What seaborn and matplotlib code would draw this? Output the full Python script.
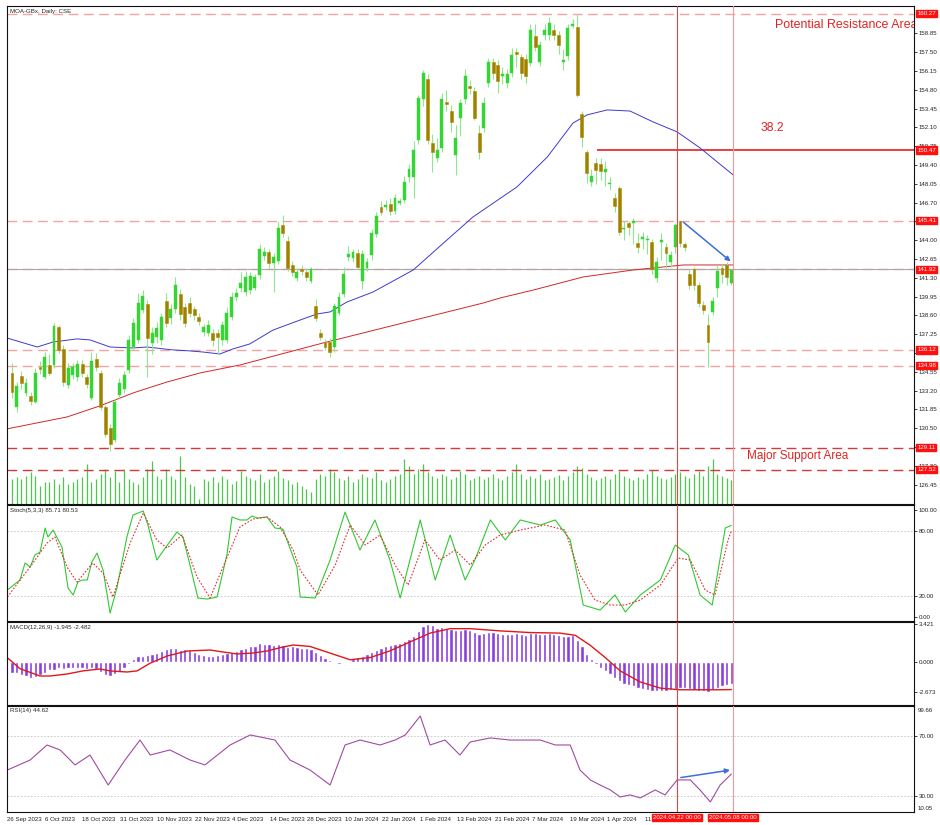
import matplotlib
matplotlib.use('Agg')
import matplotlib.pyplot as plt
import matplotlib.transforms as mtransforms
import numpy as np
import pandas as pd
import seaborn as sns

sns.set_style('white')
plt.rcParams['font.family'] = ['Liberation Sans', 'DejaVu Sans']

# ---------------- data ----------------
opens = [134.5,132.0,134.25,133.0,132.8,132.4,134.9,134.2,135.05,135.05,
         137.75,136.2,133.6,134.3,134.2,135.1,134.2,132.7,135.5,134.5,
         132.0,130.5,129.65,132.9,133.3,134.7,136.35,136.8,139.0,139.4,
         136.6,137.05,136.8,139.6,138.4,139.05,140.1,139.2,139.5,139.05,
         138.5,137.4,137.35,137.3,137.35,136.8,136.8,138.5,139.9,140.6,
         140.3,140.4,140.6,141.5,142.85,143.15,142.35,142.5,145.1,143.95,
         142.2,141.3,141.9,141.7,141.1,139.3,137.3,136.7,136.7,136.3,
         138.8,140.1,142.8,142.7,143.1,141.1,142.0,142.9,144.45,146.4,
         146.4,146.6,146.1,146.7,146.9,148.5,148.5,151.2,154.1,155.6,
         151.0,149.9,150.6,153.9,153.3,150.1,152.8,154.1,155.1,154.7,
         151.7,152.05,155.3,156.8,156.6,155.8,155.3,156.0,157.5,157.15,
         157.0,156.7,158.65,156.8,158.7,158.7,159.1,158.75,156.8,157.2,
         159.4,159.3,153.05,150.3,148.2,149.55,149.5,148.9,148.0,147.0,
         147.75,144.8,145.2,145.25,143.8,144.1,144.0,143.9,141.3,143.9,
         143.5,142.4,143.5,145.4,143.7,141.6,141.9,140.8,139.35,137.9,
         138.85,140.6,142.0,142.2,140.95]
closes = [133.1,133.5,133.75,133.75,132.45,134.5,134.75,135.6,134.5,137.85,
          136.1,133.8,134.8,134.9,135.1,134.5,133.7,135.3,134.9,132.0,
          130.1,129.4,132.4,133.75,134.3,136.8,138.05,139.5,140.0,137.0,
          137.3,137.7,138.5,138.05,139.05,140.8,138.7,138.05,138.8,138.6,
          138.2,137.8,137.9,136.8,137.05,137.9,138.8,139.9,140.2,140.9,
          141.35,141.4,141.35,143.4,143.15,142.35,142.8,144.9,144.5,142.0,
          141.7,141.7,141.8,141.35,141.9,138.4,137.05,136.3,136.0,139.3,
          139.9,141.6,143.0,143.15,142.1,143.0,142.45,144.5,145.7,146.0,
          146.55,146.1,147.0,146.8,148.2,149.1,150.5,154.2,156.0,151.2,
          150.3,150.5,154.1,153.75,152.5,151.3,153.85,155.8,154.9,152.8,
          150.3,153.85,156.8,156.0,155.4,155.95,155.95,157.3,157.4,156.0,
          155.8,159.1,157.9,158.0,159.1,159.6,158.75,158.0,156.95,159.2,
          159.55,154.4,151.4,148.8,148.6,149.05,149.0,149.1,148.1,146.45,
          144.6,144.9,144.95,145.35,143.5,144.2,144.1,141.9,142.4,144.0,
          143.1,142.9,145.1,143.8,143.5,140.8,140.8,139.5,139.0,136.7,
          139.6,141.8,141.6,141.35,141.85]
highs = [135.2,133.8,134.6,134.1,133.1,134.8,135.3,136.0,135.8,138.05,
         137.9,136.5,135.2,135.2,135.4,135.4,134.4,136.0,135.9,134.7,
         132.2,130.8,132.6,134.1,134.6,137.2,138.4,140.2,140.4,139.7,
         137.8,138.1,138.8,140.2,139.4,141.35,140.5,139.5,139.9,139.3,
         138.8,138.0,138.3,137.6,137.6,138.2,139.2,140.3,140.6,141.7,
         141.8,141.7,141.6,143.7,143.5,143.4,143.1,145.4,145.8,144.3,
         142.5,142.0,142.2,142.0,142.1,139.8,137.6,136.9,137.0,139.5,
         140.3,142.1,143.6,143.4,143.4,143.3,142.7,144.8,146.0,146.8,
         146.9,147.0,147.3,147.0,148.6,149.5,151.1,154.4,156.2,155.9,
         151.6,151.3,154.6,154.8,153.7,152.3,154.1,156.3,155.5,155.0,
         152.3,154.3,157.1,157.1,156.9,156.4,156.3,157.8,157.8,157.4,
         157.4,159.5,159.5,158.3,159.5,160.0,159.5,159.0,157.7,159.5,
         159.9,160.27,153.3,150.5,149.1,149.9,149.9,149.7,148.5,147.4,
         147.9,145.4,145.4,145.6,144.5,144.6,144.4,144.1,142.8,144.5,
         143.8,143.2,145.2,145.41,143.9,141.9,142.1,141.0,139.6,138.7,
         139.9,142.2,142.3,142.4,141.9]
lows = [132.7,131.7,133.3,132.8,132.2,132.3,134.4,134.0,134.3,134.8,
        135.9,133.5,133.4,134.0,133.9,134.2,133.4,132.5,134.6,131.8,
        129.9,128.9,129.5,132.7,133.0,134.5,136.1,136.6,138.8,134.2,
        135.8,136.6,136.5,137.8,138.0,138.8,138.3,137.8,138.5,138.3,
        137.9,137.1,137.1,136.4,135.8,136.5,136.6,138.3,139.6,140.3,
        140.0,140.1,140.4,141.2,142.6,142.0,140.3,142.3,144.2,141.8,
        141.4,141.1,141.5,141.1,140.9,138.2,136.8,136.1,135.6,136.0,
        138.6,139.9,142.5,142.4,141.9,140.5,141.8,142.6,144.2,145.8,
        146.2,145.8,145.9,146.5,146.7,148.2,147.0,150.9,153.6,150.9,
        148.9,149.6,150.3,153.3,151.8,148.7,151.5,153.8,154.5,152.6,
        149.8,151.8,155.0,155.6,154.6,155.2,154.9,155.7,156.4,155.6,
        155.3,156.5,157.6,156.5,158.4,158.4,158.4,157.4,156.2,156.9,
        159.2,154.3,150.7,148.1,147.9,148.0,148.3,147.9,147.6,146.0,
        144.4,144.0,144.4,143.7,143.1,143.4,143.0,141.6,141.0,142.6,
        142.0,142.1,143.1,143.5,143.2,140.5,140.4,139.2,138.7,134.9,
        138.6,139.9,140.9,140.8,140.8]
volume = [25,27,25,28,32,28,18,22,22,25,20,27,20,22,25,27,40,22,25,30,
          35,27,33,22,35,25,22,20,27,35,43,28,25,35,28,25,48,27,20,18,
          5,25,23,27,22,28,25,20,23,33,28,
          26,24,30,22,25,28,33,26,24,20,
          22,18,15,12,25,30,28,35,32,26,
          24,28,22,25,30,27,26,32,24,22,
          25,28,30,45,38,30,35,40,32,28,
          26,30,28,25,27,33,30,24,26,28,
          25,27,30,26,24,28,32,40,30,25,
          28,26,30,24,25,27,29,24,28,32,
          38,36,30,27,24,26,28,25,30,33,
          28,26,24,27,25,30,34,28,26,25,
          27,30,32,28,26,30,33,28,38,45,
          30,28,26,24]

ma_fast_idx = [-1.1,5.4,8.8,13.9,16.7,21.0,25.9,28.9,34.5,38.1,40.9,44.5,47.3,50.9,55.9,61.7,65.3,
               68.1,71.7,77.3,85.9,93.1,98.7,108.1,114.6,120.1,123.1,127.4,132.3,137.3,142.4,147.3,154.4]
ma_fast_val = [136.98,136.33,136.69,136.91,136.84,136.33,136.26,136.33,136.12,136.05,135.97,135.83,
               136.19,136.55,137.55,138.27,138.70,138.85,139.56,140.28,141.86,144.01,145.67,147.82,
               149.97,152.41,152.99,153.35,153.27,152.48,151.77,150.62,148.68]
ma_slow_idx = [-1.1,11.8,18.8,25.9,33.2,40.3,48.8,66.6,84.6,100.9,104.5,111.6,122.3,133.0,143.7,154.4]
ma_slow_val = [130.45,131.31,132.10,133.03,133.82,134.47,135.04,136.62,138.13,139.49,139.85,140.42,
               141.36,141.86,142.22,142.22]

stoch_k_idx = [-1,1.7,2.8,3.9,4.9,6.0,7.1,7.7,8.8,10.7,12.0,13.1,14.1,15.0,16.1,17.1,18.2,19.5,21.0,
               22.5,24.6,25.9,28.1,29.1,31.0,32.8,35.3,36.6,38.1,39.8,41.8,43.9,46.0,47.1,48.8,50.3,
               51.4,52.5,54.6,56.3,58.0,61.0,61.7,64.9,68.1,71.3,74.5,77.7,80.9,83.1,87.4,90.6,93.8,
               97.0,99.1,102.4,105.6,108.8,113.1,116.3,119.5,122.3,125.9,129.1,131.3,134.5,138.8,
               142.0,144.8,147.3,149.9,152.7,154]
stoch_k_val = [25.2,34.6,50.5,46.7,57.9,60.7,83.2,74.8,81.3,65.4,27.1,20.6,32.7,34.6,34.6,51.4,59.8,
               43.9,3.7,28.0,74.8,95.3,99.1,86.0,53.3,64.5,79.4,74.8,48.6,17.8,16.8,18.7,57.9,93.5,
               90.7,90.7,94.4,92.5,93.5,83.2,82.2,46.7,18.7,17.8,53.3,98.1,62.6,90.7,53.3,17.8,90.7,
               34.6,76.6,34.6,53.3,90.7,72.0,90.7,86.0,90.7,72.0,11.2,6.5,20.6,4.7,20.6,34.6,67.3,
               57.9,20.6,11.2,83.2,85.7]
stoch_d_idx = [-1,4.5,7.5,9.2,11.8,13.9,17.3,19.5,21.6,25.3,28.1,31.0,33.2,36.4,39.6,42.4,46.7,48.8,
               51.6,54.6,57.4,60.2,61.7,65.5,69.2,72.4,75.6,78.8,82.0,84.8,88.4,91.6,94.9,98.1,101.3,
               104.5,108.8,114.1,118.4,121.6,124.8,128.1,131.3,134.5,138.8,142.6,145.2,148.4,150.5,
               153.3,154]
stoch_d_val = [18.7,50.5,69.2,74.8,46.7,32.7,50.5,41.1,18.7,69.2,97.2,72.0,64.5,76.6,37.4,17.8,62.6,
               84.1,91.6,93.5,84.1,62.6,43.9,20.6,48.6,86.0,67.3,76.6,48.6,29.9,72.0,53.3,62.6,48.6,
               67.3,76.6,81.3,86.0,81.3,39.3,15.9,11.2,11.2,15.9,29.9,55.1,53.3,25.2,20.6,72.0,80.5]

macd_hist = [-0.95,-1.0,-1.15,-1.25,-1.4,-1.35,-1.2,-0.95,-0.75,-0.7,
             -0.55,-0.6,-0.55,-0.55,-0.55,-0.55,-0.6,-0.55,-0.65,-0.9,
             -1.15,-1.25,-1.1,-0.9,-0.55,-0.2,0.25,0.5,0.55,0.6,
             0.7,0.85,1.0,1.15,1.25,1.25,1.1,1.15,1.05,0.9,
             0.75,0.65,0.55,0.55,0.6,0.7,0.8,0.9,1.0,1.2,
             1.25,1.4,1.45,1.7,1.6,1.65,1.55,1.6,1.5,1.35,
             1.4,1.35,1.3,1.25,1.15,0.9,0.6,0.35,0.15,-0.1,
             -0.15,-0.05,0.1,0.3,0.45,0.55,0.7,0.9,1.1,1.3,
             1.45,1.55,1.65,1.75,1.9,2.1,2.35,2.75,3.2,3.421,
             3.3,3.1,3.15,3.1,3.0,2.85,2.9,2.95,2.85,2.7,
             2.55,2.6,2.7,2.7,2.6,2.55,2.5,2.55,2.6,2.55,
             2.45,2.6,2.6,2.5,2.55,2.6,2.55,2.45,2.3,2.35,
             2.4,2.0,1.4,0.75,0.25,-0.15,-0.5,-0.8,-1.1,-1.4,
             -1.75,-1.95,-2.1,-2.2,-2.35,-2.45,-2.5,-2.6,-2.65,-2.6,
             -2.6,-2.55,-2.45,-2.3,-2.3,-2.4,-2.5,-2.6,-2.65,-2.673,
             -2.55,-2.35,-2.2,-2.05,-1.945]
macd_sig_idx = [-0.9,1.7,6.0,8.1,11.8,15.2,18.8,21.0,24.6,26.8,29.6,33.2,37.5,42.4,45.2,48.2,51.6,
                54.6,58.0,60.2,63.8,68.1,72.4,76.7,80.9,85.2,89.5,93.8,98.1,104.5,110.9,117.3,120.6,
                123.8,127.0,130.2,134.5,138.8,143.0,147.3,151.6,154]
macd_sig_val = [0.35,-0.6,-1.26,-1.26,-1.08,-0.8,-0.63,-0.8,-0.9,-0.8,-0.1,0.54,0.99,1.08,0.9,0.72,
                0.81,0.99,1.35,1.53,1.4,0.8,0.2,0.4,1.0,1.8,2.6,3.0,3.0,2.8,2.65,2.6,2.4,1.5,0.4,
                -0.8,-1.8,-2.35,-2.5,-2.5,-2.5,-2.482]

rsi_idx = [-1,3.9,7.5,10.3,13.5,16.7,20.6,24.2,27.4,29.6,33.8,38.1,41.3,46.7,51.0,56.3,59.5,63.8,
           68.1,71.3,74.5,78.8,82.0,84.2,87.4,89.5,92.7,95.9,98.1,102.4,106.6,113.1,116.3,119.5,
           121.6,123.8,125.9,128.1,130.2,132.3,134.5,137.7,139.8,142.4,145.2,147.3,149.5,151.6,154]
rsi_val = [47.3,54,64,60.7,50.7,57.3,37.3,54,67.3,57.3,60.7,54,50.7,64,70.7,67.3,54,47.3,37.3,64,
           67.3,64,67.3,70.7,83.3,64,67.3,57.3,66,68.7,67.3,67.3,64,64,47.3,40.7,37.3,34,29.3,30.7,
           28.7,34,30.7,40.7,40.7,34,26,37.3,44.62]

date_labels = ['26 Sep 2023', '6 Oct 2023', '18 Oct 2023', '31 Oct 2023', '10 Nov 2023',
               '22 Nov 2023', '4 Dec 2023', '14 Dec 2023', '28 Dec 2023', '10 Jan 2024',
               '22 Jan 2024', '1 Feb 2024', '13 Feb 2024', '21 Feb 2024', '7 Mar 2024',
               '19 Mar 2024', '1 Apr 2024', '11 Apr 2024']
price_ticks = [158.85,157.50,156.15,154.80,153.45,152.10,150.75,149.40,148.05,146.70,145.35,
               144.00,142.65,141.30,139.95,138.60,137.25,135.90,134.55,133.20,131.85,130.50,
               129.15,127.80,126.45]
level_tags = [160.27, 150.47, 145.41, 141.92, 136.12, 134.98, 129.11, 127.52]

# ---------------- figure ----------------
n = len(opens)
df = pd.DataFrame(dict(i=np.arange(n), o=opens, c=closes, h=highs, l=lows, v=volume))
fig = plt.figure(figsize=(9.4, 8.25), dpi=100)


def add_ax(top, bot):
    return fig.add_axes([7 / 940, 1 - bot / 825, (914 - 7) / 940, (bot - top) / 825])


ax = add_ax(6, 504)
ax_st = add_ax(505, 621)
ax_md = add_ax(622, 705)
ax_rs = add_ax(706, 812)
XL = (-1.07, 193.1)
FS = 4.4

# volume (twin axis, hidden)
axv = ax.twinx()
axv.set_ylim(0, 498)
axv.set_xlim(*XL)
axv.vlines(df.i, 0, df.v, color='#4cc84c', lw=0.9)
axv.set_yticks([])
axv.tick_params(length=0, labelleft=False, labelright=False)
for s in axv.spines.values():
    s.set_visible(False)
axv.set_zorder(0)
ax.set_zorder(1)
ax.patch.set_visible(False)

for a in (ax, ax_st, ax_md, ax_rs):
    a.set_xlim(*XL)
    a.yaxis.tick_right()
    a.yaxis.set_label_position('right')
    a.tick_params(axis='y', left=False, labelleft=False, right=True, labelright=True,
                  length=2.5, width=0.6, labelsize=FS, pad=1, colors='#222222')
    a.tick_params(axis='x', length=0)
    for s in a.spines.values():
        s.set_color('#111111')
        s.set_linewidth(0.8)
    a.set_xticks([])

ax.set_ylim(125.06, 160.81)
ax.set_yticks(price_ticks)
ax.set_yticklabels([f'{t:.2f}' for t in price_ticks])

# horizontal levels
dash = (0, (7, 4))
for lv in [160.27, 145.41, 141.92, 136.12, 134.98]:
    ax.axhline(lv, color='#f4a3a3', lw=1.0, ls=dash, zorder=1)
ax.axhline(141.92, color='#a9a9a9', lw=0.8, zorder=1)
for lv in [129.11, 127.52]:
    ax.axhline(lv, color='#d43a3a', lw=1.0, ls=dash, zorder=1)
ax.hlines(150.47, 125.3, XL[1], color='#e61e1e', lw=1.2, zorder=2)

# moving averages
sns.lineplot(x=ma_fast_idx, y=ma_fast_val, ax=ax, color='#3b3bd0', lw=0.7, estimator=None, sort=False)
sns.lineplot(x=ma_slow_idx, y=ma_slow_val, ax=ax, color='#d02828', lw=0.7, estimator=None, sort=False)

# candles
bull = df.c >= df.o
ax.vlines(df.i, df.l, df.h, color='#8ee68e', lw=0.8, zorder=3)
bot = np.minimum(df.o, df.c)
hgt = np.maximum((df.c - df.o).abs(), 0.07)
ax.bar(df.i[bull], hgt[bull], bottom=bot[bull], width=0.62, color='#34d634',
       edgecolor='#34d634', lw=0.3, zorder=4)
ax.bar(df.i[~bull], hgt[~bull], bottom=bot[~bull], width=0.62, color='#8f8900',
       edgecolor='#d07800', lw=0.4, zorder=4)

# vertical markers
for a in (ax, ax_st, ax_md, ax_rs):
    a.axvline(142.4, color='#e04646', lw=0.8, zorder=5)
    a.axvline(154.4, color='#f29a9a', lw=0.8, zorder=5)

# arrow + texts
ax.annotate('', xy=(154.3, 142.35), xytext=(143.3, 145.41),
            arrowprops=dict(arrowstyle='-|>', color='#3e6fd8', lw=1.1, mutation_scale=7), zorder=6)
ax.text(163.4, 159.45, 'Potential Resistance Area', color='#e02424', fontsize=8.9, va='center',
        ha='left', clip_on=True)
ax.text(160.2, 152.05, '38.2', color='#e02424', fontsize=8.8, va='center', ha='left')
ax.text(157.4, 128.5, 'Major Support Area', color='#e02424', fontsize=8.5, va='center', ha='left')
ax.text(0.003, 0.993, 'MOA-GBx, Daily: CSE', transform=ax.transAxes, fontsize=FS, va='top')

tr = mtransforms.blended_transform_factory(ax.transAxes, ax.transData)
for lv in level_tags:
    ax.text(1.0035, lv, f'{lv:.2f}', transform=tr, color='white', fontsize=FS, va='center',
            ha='left', clip_on=False, zorder=10,
            bbox=dict(boxstyle='square,pad=0.18', fc='#ff1010', ec='#ff1010'))

# stochastic
ax_st.set_ylim(-3.7, 104.7)
ax_st.set_yticks([100, 80, 20, 0])
ax_st.set_yticklabels(['100.00', '80.00', '20.00', '0.00'])
for lv in (80, 20):
    ax_st.axhline(lv, color='#c4c4c4', lw=0.6, ls=(0, (2, 2)))
sns.lineplot(x=stoch_k_idx, y=stoch_k_val, ax=ax_st, color='#32c832', lw=0.8, estimator=None, sort=False)
sns.lineplot(x=stoch_d_idx, y=stoch_d_val, ax=ax_st, color='#e03030', lw=0.8, estimator=None,
             sort=False, linestyle=(0, (1.5, 1.5)))
ax_st.text(0.003, 0.97, 'Stoch(5,3,3) 85.71 80.53', transform=ax_st.transAxes, fontsize=FS, va='top')

# MACD
ax_md.set_ylim(-3.87, 3.6)
ax_md.set_yticks([3.421, 0.0, -2.673])
ax_md.set_yticklabels(['3.421', '0.000', '-2.673'])
ax_md.bar(df.i, macd_hist, width=0.7, color='#8b3ee0', zorder=2)
sns.lineplot(x=macd_sig_idx, y=macd_sig_val, ax=ax_md, color='#e01818', lw=1.0, estimator=None, sort=False)
ax_md.text(0.003, 0.96, 'MACD(12,26,9) -1.945 -2.482', transform=ax_md.transAxes, fontsize=FS, va='top')

# RSI
ax_rs.set_ylim(19.3, 90)
ax_rs.set_yticks([70, 30])
ax_rs.set_yticklabels(['70.00', '30.00'])
for lv in (70, 30):
    ax_rs.axhline(lv, color='#c4c4c4', lw=0.6, ls=(0, (2, 2)))
sns.lineplot(x=rsi_idx, y=rsi_val, ax=ax_rs, color='#a24aa2', lw=0.8, estimator=None, sort=False)
ax_rs.annotate('', xy=(154.3, 47.5), xytext=(142.6, 42.0),
               arrowprops=dict(arrowstyle='-|>', color='#3e6fd8', lw=1.1, mutation_scale=7), zorder=6)
ax_rs.text(0.003, 0.985, 'RSI(14) 44.62', transform=ax_rs.transAxes, fontsize=FS, va='top')
ax_rs.text(1.004, 0.985, '99.66', transform=ax_rs.transAxes, fontsize=FS, va='top', color='#222222')
ax_rs.text(1.004, 0.01, '10.05', transform=ax_rs.transAxes, fontsize=FS, va='bottom', color='#222222')

# x labels
tick_pos = [8.03 * k - 1.07 for k in range(len(date_labels))]
ax_rs.set_xticks(tick_pos)
ax_rs.set_xticklabels(date_labels, fontsize=FS, ha='left')
ax_rs.tick_params(axis='x', length=2, width=0.6, pad=1.5, colors='#222222')
ax_rs.set_xlim(*XL)
trb = mtransforms.blended_transform_factory(ax_rs.transData, ax_rs.transAxes)
for xi, s in [(142.4, '2024.04.22 00:00'), (154.4, '2024.05.08 00:00')]:
    ax_rs.text(xi, -0.055, s, transform=trb, color='white', fontsize=FS, ha='center', va='center',
               clip_on=False, zorder=10,
               bbox=dict(boxstyle='square,pad=0.18', fc='#ff1010', ec='#ff1010'))

for a in (ax, ax_st, ax_md, ax_rs):
    a.set_xlabel('')
    a.set_ylabel('')

fig.savefig('out.png', dpi=100)
